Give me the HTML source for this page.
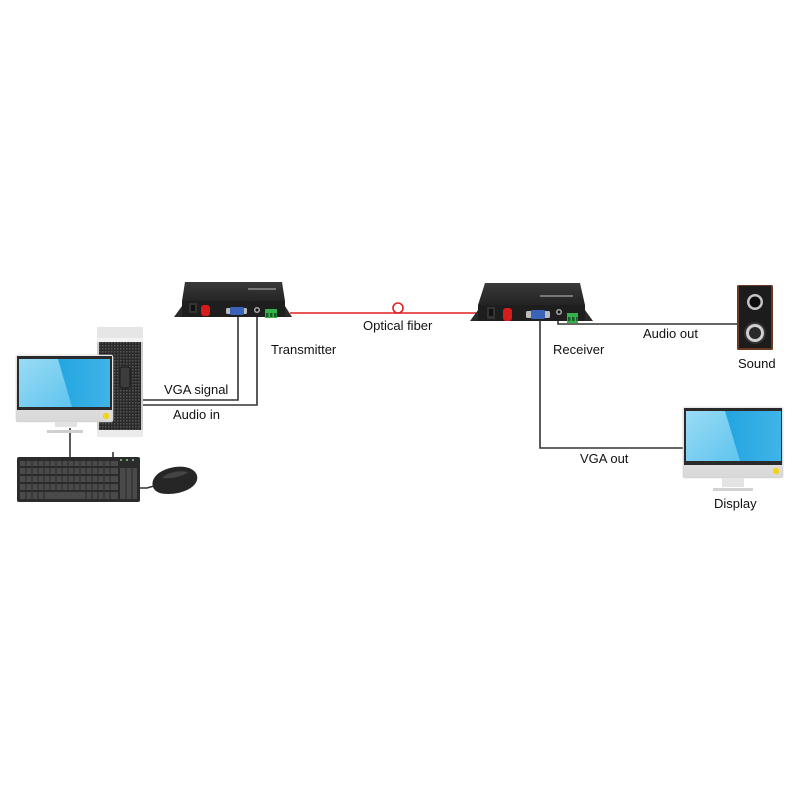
<!DOCTYPE html>
<html><head><meta charset="utf-8"><style>
html,body{margin:0;padding:0;background:#fff;}
svg{display:block;}
text{font-family:"Liberation Sans",Arial,sans-serif;font-size:13px;fill:#111;}
</style></head><body>
<svg width="800" height="800" viewBox="0 0 800 800" xmlns="http://www.w3.org/2000/svg">
<defs>
<linearGradient id="scrL" x1="0" y1="0" x2="1" y2="1">
<stop offset="0" stop-color="#9adbf5"/><stop offset="1" stop-color="#5ec4ee"/>
</linearGradient>
<linearGradient id="scrR" x1="0" y1="0" x2="1" y2="0">
<stop offset="0" stop-color="#0f9ad9"/><stop offset="1" stop-color="#3fb4e8"/>
</linearGradient>
<linearGradient id="chin" x1="0" y1="0" x2="0" y2="1">
<stop offset="0" stop-color="#f4f4f4"/><stop offset="1" stop-color="#d8d8d8"/>
</linearGradient>
<linearGradient id="boxtop" x1="0" y1="0" x2="0" y2="1">
<stop offset="0" stop-color="#3a3a3a"/><stop offset="1" stop-color="#242424"/>
</linearGradient>
<pattern id="mesh" width="3" height="3" patternUnits="userSpaceOnUse">
<rect width="3" height="3" fill="#2a2a2a"/><rect width="1.5" height="1.5" fill="#555"/>
</pattern>
</defs>

<!-- connector lines left -->
<g stroke="#333" stroke-width="1.6" fill="none">
<polyline points="143,400 238,400 238,316"/>
<polyline points="143,405 257,405 257,313"/>
<line x1="70" y1="428" x2="70" y2="458"/>
<line x1="113" y1="452" x2="113" y2="458"/>
<polyline points="140,488 147,488 154,486"/>
</g>

<!-- tower -->
<rect x="97" y="327" width="46" height="11" fill="#e6e6e6"/>
<rect x="97" y="338" width="46" height="4" fill="#f2f2f2"/>
<rect x="97" y="342" width="46" height="88" fill="url(#mesh)"/>
<rect x="97" y="342" width="2" height="88" fill="#ccc"/>
<rect x="141" y="342" width="2" height="88" fill="#ccc"/>
<rect x="97" y="430" width="46" height="7" fill="#ebebeb"/>
<rect x="120" y="367" width="10" height="21" rx="2" fill="#3c3c3c" stroke="#1a1a1a" stroke-width="1"/>

<!-- left monitor -->
<rect x="16" y="355" width="97" height="67" rx="2" fill="url(#chin)" stroke="#cfcfcf" stroke-width="0.6"/>
<rect x="17" y="356" width="95" height="54" fill="#2a2a2a"/>
<rect x="19" y="359" width="91" height="48" fill="url(#scrR)"/>
<polygon points="19,359 58,359 72,407 19,407" fill="url(#scrL)"/>
<circle cx="106" cy="416" r="3.2" fill="#f3d21a"/>
<rect x="55" y="422" width="22" height="5" fill="#e2e2e2"/>
<rect x="47" y="430" width="36" height="3" fill="#cfcfcf"/>

<!-- keyboard -->
<rect x="17" y="457" width="123" height="45" rx="2" fill="#2b2b2b"/>
<g fill="#4a4a4a">
<rect x="20" y="461" width="98" height="5"/>
<rect x="20" y="468" width="98" height="6"/>
<rect x="20" y="476" width="98" height="6"/>
<rect x="20" y="484" width="98" height="6"/>
<rect x="20" y="492" width="98" height="7"/>
<rect x="120" y="468" width="17" height="31"/>
</g>
<g stroke="#2b2b2b" stroke-width="1">
<line x1="26" y1="461" x2="26" y2="499"/><line x1="32" y1="461" x2="32" y2="499"/><line x1="38" y1="461" x2="38" y2="499"/>
<line x1="44" y1="461" x2="44" y2="499"/><line x1="50" y1="461" x2="50" y2="492"/><line x1="56" y1="461" x2="56" y2="492"/>
<line x1="62" y1="461" x2="62" y2="492"/><line x1="68" y1="461" x2="68" y2="492"/><line x1="74" y1="461" x2="74" y2="492"/>
<line x1="80" y1="461" x2="80" y2="492"/><line x1="86" y1="461" x2="86" y2="499"/><line x1="92" y1="461" x2="92" y2="499"/>
<line x1="98" y1="461" x2="98" y2="499"/><line x1="104" y1="461" x2="104" y2="499"/><line x1="110" y1="461" x2="110" y2="499"/>
<line x1="126" y1="468" x2="126" y2="499"/><line x1="132" y1="468" x2="132" y2="499"/>
</g>
<circle cx="121" cy="460" r="1" fill="#8c8"/><circle cx="127" cy="460" r="1" fill="#8c8"/><circle cx="133" cy="460" r="1" fill="#8c8"/>

<!-- mouse -->
<path d="M153,487 C150,478 160,469 175,467 C190,465 199,472 197,480 C195,488 182,494 168,494 C160,494 155,492 153,487 Z" fill="#262626"/>
<path d="M162,478 C168,472 180,470 188,472 C184,476 172,479 162,478 Z" fill="#444"/>

<!-- transmitter -->
<polygon points="185,282 282,282 285,301 182,301" fill="url(#boxtop)"/>
<rect x="182" y="301" width="103" height="16" fill="#1e1e1e"/>
<polygon points="174,317 182,306 182,317" fill="#2a2a2a"/>
<polygon points="285,306 292,317 285,317" fill="#2a2a2a"/>
<rect x="189" y="303" width="8" height="10" fill="#333"/><rect x="191" y="305" width="4" height="6" fill="#111"/>
<rect x="201" y="305" width="9" height="11" rx="3" fill="#d61c1c"/>
<rect x="226" y="308" width="21" height="6" rx="1.5" fill="#bbb"/>
<rect x="230" y="307" width="14" height="8" rx="1.5" fill="#3a62b8"/>
<circle cx="257" cy="310" r="3" fill="#aaa"/><circle cx="257" cy="310" r="1.5" fill="#111"/>
<rect x="265" y="309" width="12" height="9" fill="#33b34a"/>
<g fill="#155d22"><rect x="266" y="313" width="2.5" height="4"/><rect x="270" y="313" width="2.5" height="4"/><rect x="274" y="313" width="2.5" height="4"/></g>
<rect x="248" y="288" width="28" height="2" fill="#777"/>

<!-- fiber -->
<line x1="290" y1="313" x2="478" y2="313" stroke="#e02020" stroke-width="1.6"/>
<circle cx="398" cy="308" r="5" fill="#fff" stroke="#e02020" stroke-width="1.6"/>

<!-- receiver -->
<polygon points="485,283 580,283 585,305 478,305" fill="url(#boxtop)"/>
<rect x="478" y="305" width="107" height="16" fill="#1e1e1e"/>
<polygon points="470,321 478,310 478,321" fill="#2a2a2a"/>
<polygon points="585,310 593,321 585,321" fill="#2a2a2a"/>
<rect x="487" y="307" width="8" height="12" fill="#333"/><rect x="489" y="309" width="4" height="7" fill="#111"/>
<rect x="503" y="308" width="9" height="13" rx="3" fill="#d61c1c"/>
<rect x="526" y="311" width="24" height="7" rx="1.5" fill="#bbb"/>
<rect x="531" y="310" width="14" height="9" rx="1.5" fill="#3a62b8"/>
<circle cx="559" cy="312" r="3" fill="#aaa"/><circle cx="559" cy="312" r="1.5" fill="#111"/>
<rect x="567" y="313" width="11" height="10" fill="#33b34a"/>
<g fill="#155d22"><rect x="568" y="317" width="2.5" height="4"/><rect x="572" y="317" width="2.5" height="4"/><rect x="576" y="317" width="1.5" height="4"/></g>
<rect x="540" y="295" width="33" height="2" fill="#777"/>

<!-- receiver lines -->
<g stroke="#333" stroke-width="1.6" fill="none">
<polyline points="558,321 558,324 737,324"/>
<polyline points="540,320 540,448 684,448"/>
</g>

<!-- speaker -->
<rect x="737" y="285" width="36" height="65" rx="1.5" fill="#6a3a20"/>
<rect x="739" y="286" width="32" height="62" fill="#1c1c1c"/>
<circle cx="755" cy="302" r="8" fill="#c4c4c4"/><circle cx="755" cy="302" r="5.5" fill="#0c0c0c"/>
<circle cx="755" cy="333" r="11" fill="#333"/><circle cx="755" cy="333" r="9" fill="#cfcfcf"/><circle cx="755" cy="333" r="6" fill="#2a2a2a"/>

<!-- display -->
<rect x="683" y="407" width="100" height="71" rx="2" fill="url(#chin)" stroke="#cfcfcf" stroke-width="0.6"/>
<rect x="684" y="408" width="98" height="57" fill="#2a2a2a"/>
<rect x="686" y="411" width="95" height="50" fill="url(#scrR)"/>
<polygon points="686,411 725,411 740,461 686,461" fill="url(#scrL)"/>
<circle cx="776" cy="471" r="3.2" fill="#f3d21a"/>
<rect x="722" y="478" width="22" height="9" fill="#e4e4e4"/>
<rect x="713" y="488" width="40" height="3" fill="#d2d2d2"/>

<!-- labels -->
<text x="271" y="354">Transmitter</text>
<text x="164" y="394">VGA signal</text>
<text x="173" y="419">Audio in</text>
<text x="363" y="330">Optical fiber</text>
<text x="553" y="354">Receiver</text>
<text x="643" y="338">Audio out</text>
<text x="580" y="463">VGA out</text>
<text x="738" y="368">Sound</text>
<text x="714" y="508">Display</text>
</svg>
</body></html>
